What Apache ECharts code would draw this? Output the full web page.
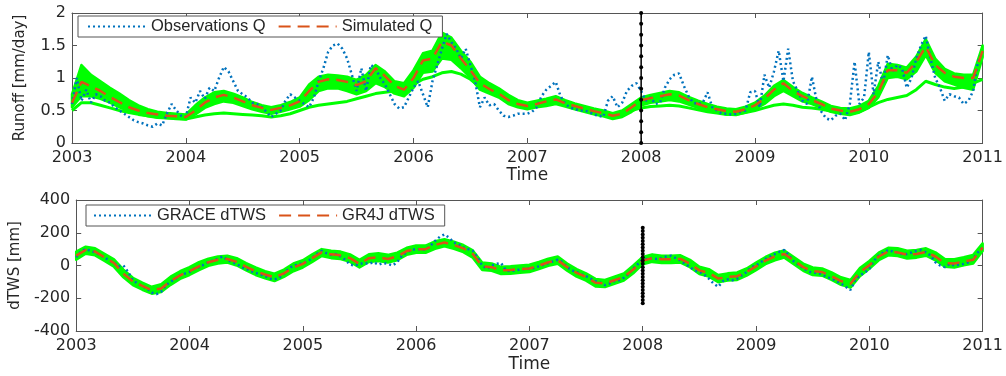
<!DOCTYPE html>
<html><head><meta charset="utf-8">
<script src="https://cdn.jsdelivr.net/npm/echarts@6/dist/echarts.min.js"></script>
<style>html,body{margin:0;padding:0;background:#fff}#c{width:1006px;height:376px}</style>
</head><body><div id="c"></div>
<script>
// x tick labels
const yearTicks = ['2003','2004','2005','2006','2007','2008','2009','2010','2011'];

// ---- Top panel: runoff [mm/day], monthly from 2003.0 to 2011.0 ----
const simQ = [
0.62,0.94,0.87,0.80,0.71,0.63,0.55,0.50,0.46,0.44,0.42,0.41,
0.40,0.50,0.62,0.70,0.74,0.70,0.64,0.58,0.54,0.51,0.54,0.58,
0.64,0.80,0.94,0.98,0.97,0.94,0.89,0.95,1.15,1.03,0.88,0.82,
1.00,1.27,1.30,1.56,1.50,1.30,1.12,0.92,0.83,0.76,0.66,0.60,
0.57,0.60,0.64,0.67,0.61,0.57,0.53,0.49,0.46,0.42,0.45,0.55,
0.66,0.69,0.72,0.75,0.73,0.66,0.60,0.55,0.52,0.49,0.48,0.52,
0.58,0.68,0.82,0.92,0.80,0.72,0.66,0.60,0.53,0.50,0.48,0.52,
0.60,0.78,1.12,1.12,1.08,1.25,1.48,1.20,1.08,1.02,1.00,1.00,
1.42];
const ensUpperQ = [
0.75,1.20,1.05,0.95,0.85,0.76,0.66,0.58,0.52,0.48,0.46,0.45,
0.44,0.58,0.70,0.78,0.80,0.76,0.70,0.63,0.58,0.55,0.58,0.63,
0.70,0.90,1.02,1.05,1.04,1.02,0.97,1.05,1.20,1.10,0.95,0.92,
1.12,1.38,1.42,1.70,1.62,1.42,1.25,1.02,0.92,0.84,0.74,0.66,
0.62,0.65,0.68,0.72,0.66,0.61,0.57,0.53,0.50,0.46,0.50,0.60,
0.70,0.74,0.77,0.80,0.78,0.71,0.65,0.60,0.56,0.53,0.52,0.56,
0.62,0.73,0.88,0.97,0.86,0.77,0.70,0.64,0.57,0.54,0.53,0.57,
0.65,0.88,1.22,1.20,1.16,1.33,1.60,1.30,1.14,1.07,1.05,1.05,
1.50];
const ensLowerQ = [
0.55,0.72,0.72,0.68,0.62,0.55,0.49,0.45,0.41,0.39,0.38,0.37,
0.36,0.44,0.54,0.60,0.64,0.62,0.57,0.52,0.48,0.45,0.48,0.52,
0.56,0.66,0.80,0.84,0.84,0.80,0.75,0.80,0.92,0.86,0.76,0.72,
0.85,1.08,1.10,1.30,1.28,1.15,1.00,0.82,0.76,0.70,0.60,0.55,
0.52,0.55,0.57,0.60,0.56,0.52,0.48,0.44,0.41,0.37,0.40,0.48,
0.58,0.62,0.64,0.66,0.64,0.59,0.54,0.50,0.47,0.44,0.43,0.47,
0.52,0.60,0.72,0.80,0.72,0.64,0.60,0.54,0.48,0.45,0.43,0.47,
0.54,0.70,1.00,1.02,0.98,1.10,1.35,1.08,0.95,0.90,0.85,0.82,
1.32];
const ensDryQ = [
0.50,0.62,0.62,0.58,0.54,0.50,0.47,0.44,0.42,0.40,0.39,0.38,
0.37,0.40,0.43,0.45,0.46,0.45,0.44,0.43,0.42,0.40,0.42,0.45,
0.50,0.55,0.58,0.60,0.62,0.64,0.68,0.72,0.76,0.78,0.80,0.85,
0.90,0.98,1.02,1.08,1.10,1.06,0.98,0.86,0.78,0.72,0.66,0.62,
0.60,0.60,0.61,0.62,0.58,0.54,0.50,0.47,0.44,0.42,0.44,0.50,
0.54,0.56,0.57,0.58,0.57,0.54,0.51,0.48,0.46,0.44,0.44,0.47,
0.50,0.54,0.58,0.60,0.58,0.55,0.54,0.52,0.49,0.46,0.45,0.48,
0.55,0.62,0.67,0.70,0.73,0.82,0.95,0.90,0.86,0.84,0.86,0.92,
0.98];
// observed runoff, twice a month
const obsQ = [
0.60,1.00,0.65,0.82,0.62,0.75,0.72,0.65,0.62,0.55,0.50,0.45,0.40,0.35,0.32,0.30,0.27,0.25,0.30,0.27,0.45,0.60,0.50,0.42,
0.40,0.70,0.62,0.80,0.68,0.85,0.80,1.00,1.17,1.10,0.95,0.80,0.75,0.70,0.62,0.60,0.55,0.48,0.40,0.45,0.50,0.65,0.75,0.70,
0.65,0.60,0.55,0.70,0.95,1.15,1.40,1.50,1.53,1.45,1.30,1.05,0.80,1.15,0.80,1.20,1.15,1.00,0.90,0.75,0.60,0.53,0.55,0.70,
0.85,0.95,0.75,0.55,0.95,1.20,1.45,1.68,1.55,1.45,1.30,1.45,1.20,0.95,0.55,0.70,0.58,0.60,0.50,0.42,0.40,0.42,0.45,0.45,
0.45,0.48,0.55,0.72,0.82,0.88,0.94,0.72,0.60,0.55,0.52,0.50,0.50,0.48,0.44,0.42,0.40,0.65,0.72,0.55,0.62,0.80,0.88,0.92,
0.80,0.65,0.70,0.60,0.62,0.85,0.98,1.05,1.07,0.88,0.72,0.62,0.60,0.62,0.78,0.55,0.50,0.45,0.45,0.44,0.45,0.48,0.50,0.78,
0.80,0.55,1.05,0.85,1.10,1.42,0.95,1.45,0.95,0.80,0.65,0.60,1.02,0.65,0.48,0.38,0.35,0.42,0.45,0.35,0.60,1.25,0.60,0.70,
1.40,0.75,1.25,0.90,1.35,1.10,1.20,1.15,0.85,1.00,1.30,1.50,1.65,1.30,1.00,0.85,0.65,0.75,0.72,0.70,0.60,0.65,0.80,1.25,
1.40];

// ---- Bottom panel: dTWS [mm] ----
const simTWS = [
60,95,85,50,15,-50,-98,-125,-150,-140,-95,-60,
-35,-5,20,35,40,22,-8,-35,-55,-72,-48,-12,
10,45,80,68,62,45,10,45,50,40,55,88,
100,100,125,140,125,105,70,-5,-10,-30,-28,-22,
-18,0,20,32,-10,-45,-70,-105,-110,-90,-70,-25,
30,45,38,38,40,12,-30,-45,-80,-70,-65,-40,
-5,30,55,70,30,-10,-35,-40,-65,-95,-112,-40,
2,55,85,80,65,70,82,55,15,12,25,35,
110];
const ensUpperTWS = [
85,115,105,72,38,-25,-75,-105,-130,-115,-68,-35,
-10,20,42,55,60,45,15,-12,-35,-50,-25,12,
32,68,100,90,85,68,35,68,75,65,78,108,
122,122,148,160,145,125,92,18,12,-8,-5,0,
5,22,42,55,12,-22,-48,-82,-88,-68,-48,0,
52,68,60,60,62,35,-8,-22,-58,-48,-42,-18,
18,52,78,92,52,12,-12,-18,-42,-72,-88,-15,
28,78,108,105,90,95,105,80,40,38,50,65,
135];
const ensLowerTWS = [
35,72,62,28,-8,-72,-120,-148,-172,-162,-118,-82,
-58,-28,-2,12,18,0,-30,-58,-78,-95,-70,-35,
-12,22,58,45,40,22,-12,22,28,18,32,65,
78,78,102,118,102,82,48,-28,-32,-52,-50,-45,
-40,-22,-2,10,-32,-68,-92,-128,-132,-112,-92,-48,
8,22,15,15,18,-10,-52,-68,-102,-92,-88,-62,
-28,8,32,48,8,-32,-58,-62,-88,-118,-135,-65,
-20,32,62,58,42,48,60,32,-8,-12,2,12,
88];
// GRACE, twice a month
const graceTWS = [
50,85,100,90,80,65,50,30,15,-5,0,-40,-90,-110,-125,-140,-165,-175,-160,-120,-100,-80,-60,-50,
-40,-20,-10,5,20,30,40,55,35,20,10,-10,-20,-35,-45,-55,-65,-80,-85,-75,-50,-20,0,5,
15,25,45,70,90,75,65,70,55,35,5,0,10,15,10,20,5,15,10,0,20,60,80,95,
100,100,95,120,150,175,190,170,140,130,110,100,90,50,0,-20,0,10,15,-30,-35,-30,-25,-20,
-20,-15,-5,5,15,25,35,20,-10,-30,-40,-55,-65,-80,-95,-105,-120,-110,-95,-90,-75,-50,-20,10,
35,40,45,40,45,55,60,45,30,10,-10,-30,-40,-55,-80,-110,-130,-95,-85,-90,-80,-60,-40,-10,
0,20,40,55,70,85,95,60,25,5,-15,-35,-45,-45,-55,-70,-80,-95,-110,-130,-150,-90,-60,-45,
-20,30,60,80,95,85,80,70,70,80,90,95,80,60,20,0,-10,10,0,5,10,20,40,80,
110];

// calibration / validation split marker
const splitYear = 2008;
const splitMarksQ = [0,0.167,0.333,0.5,0.667,0.833,1,1.167,1.333,1.5,1.667,1.833,2];
const splitMarksTWS = [-230,-210,-190,-170,-150,-130,-110,-90,-70,-50,-30,-10,10,30,50,70,90,110,130,150,170,190,210,230];

// ---------- build ----------
const FONT = 'DejaVu Sans';
const LFONT = 'Liberation Sans';
const TXT = '#262626';
const AX = '#555555';
const BLUE = '#0072BD', RED = '#D95319', GREEN = '#00FF00';

const mT = i => 2003 + i / 12;
const monthly = arr => arr.map((v, i) => [mT(i), v]);
const semi = arr => arr.map((v, i) => [2003 + i / 24, v]);

function xAxes(gi, gap) {
  return [{
    type: 'value', gridIndex: gi, min: 2003, max: 2011, interval: 1, position: 'bottom',
    name: 'Time', nameLocation: 'middle', nameGap: gap,
    nameTextStyle: {fontFamily: FONT, fontSize: 17, color: TXT},
    axisLine: {show: true, onZero: false, lineStyle: {color: AX, width: 1}},
    axisTick: {show: true, inside: true, length: 5, lineStyle: {color: AX}},
    axisLabel: {show: true, margin: 7, fontFamily: FONT, fontSize: 16, color: TXT,
      formatter: v => yearTicks[Math.round(v - 2003)] || ''},
    splitLine: {show: false}
  }, {
    type: 'value', gridIndex: gi, min: 2003, max: 2011, interval: 1, position: 'top',
    axisLine: {show: true, onZero: false, lineStyle: {color: AX, width: 1}},
    axisTick: {show: true, inside: true, length: 5, lineStyle: {color: AX}},
    axisLabel: {show: false}, splitLine: {show: false}
  }];
}
function yAxes(gi, min, max, interval, name, gap) {
  return [{
    type: 'value', gridIndex: gi, min, max, interval, position: 'left',
    name, nameLocation: 'middle', nameGap: gap,
    nameTextStyle: {fontFamily: FONT, fontSize: 15, color: TXT},
    axisLine: {show: true, onZero: false, lineStyle: {color: AX, width: 1}},
    axisTick: {show: true, inside: true, length: 5, lineStyle: {color: AX}},
    axisLabel: {show: true, margin: 6, fontFamily: FONT, fontSize: 16, color: TXT},
    splitLine: {show: false}
  }, {
    type: 'value', gridIndex: gi, min, max, interval, position: 'right',
    axisLine: {show: true, onZero: false, lineStyle: {color: AX, width: 1}},
    axisTick: {show: true, inside: true, length: 5, lineStyle: {color: AX}},
    axisLabel: {show: false}, splitLine: {show: false}
  }];
}

const xa = [...xAxes(0, 24), ...xAxes(1, 25)];   // 0,1 top panel ; 2,3 bottom panel
const ya = [...yAxes(0, 0, 2, 0.5, 'Runoff [mm/day]', 44), ...yAxes(1, -400, 400, 200, 'dTWS [mm]', 47)];

// ensemble envelope drawn as a polygon through the axis scales
function band(xi, yi, lower, upper) {
  return {
    type: 'custom', xAxisIndex: xi, yAxisIndex: yi, data: [[2003, lower[0]]], silent: true, z: 1,
    renderItem: (params, api) => {
      const pts = [];
      for (let i = 0; i < upper.length; i++) pts.push(api.coord([mT(i), upper[i]]));
      for (let i = lower.length - 1; i >= 0; i--) pts.push(api.coord([mT(i), lower[i]]));
      return {type: 'polygon', shape: {points: pts},
              style: {fill: GREEN, stroke: GREEN, lineWidth: 2.5, lineJoin: 'round'}};
    }
  };
}

const series = [
  band(0, 0, ensLowerQ, ensUpperQ),
  {type: 'line', xAxisIndex: 0, yAxisIndex: 0, data: monthly(ensDryQ), symbol: 'none',
   lineStyle: {width: 3, color: GREEN}, z: 1},
  {name: 'Observations Q', type: 'line', xAxisIndex: 0, yAxisIndex: 0, data: semi(obsQ), symbol: 'none',
   color: BLUE, lineStyle: {width: 2.5, color: BLUE, type: [2, 3]}, z: 2},
  {name: 'Simulated Q', type: 'line', xAxisIndex: 0, yAxisIndex: 0, data: monthly(simQ), symbol: 'none',
   color: RED, lineStyle: {width: 2.5, color: RED, type: [12, 7]}, z: 3},
  {type: 'line', xAxisIndex: 0, yAxisIndex: 0, data: splitMarksQ.map(v => [splitYear, v]),
   symbol: 'circle', symbolSize: 4, showSymbol: true, itemStyle: {color: '#000'},
   lineStyle: {width: 1.5, color: '#000'}, z: 4},

  band(2, 2, ensLowerTWS, ensUpperTWS),
  {name: 'GRACE dTWS', type: 'line', xAxisIndex: 2, yAxisIndex: 2, data: semi(graceTWS), symbol: 'none',
   color: BLUE, lineStyle: {width: 2.5, color: BLUE, type: [2, 3]}, z: 2},
  {name: 'GR4J dTWS', type: 'line', xAxisIndex: 2, yAxisIndex: 2, data: monthly(simTWS), symbol: 'none',
   color: RED, lineStyle: {width: 2.5, color: RED, type: [12, 7]}, z: 3},
  {type: 'line', xAxisIndex: 2, yAxisIndex: 2, data: splitMarksTWS.map(v => [splitYear, v]),
   symbol: 'circle', symbolSize: 4, showSymbol: true, itemStyle: {color: '#000'},
   lineStyle: {width: 1.5, color: '#000'}, z: 4}
];

const legendBase = {
  orient: 'horizontal', backgroundColor: '#fff', borderColor: AX, borderWidth: 1, borderRadius: 0,
  itemWidth: 58, itemHeight: 12, itemGap: 12,
  itemStyle: {opacity: 0},
  textStyle: {fontFamily: LFONT, fontSize: 16.5, color: TXT},
  selectedMode: false
};

const chart = echarts.init(document.getElementById('c'), null, {renderer: 'canvas'});
chart.setOption({
  animation: false,
  backgroundColor: '#fff',
  grid: [{left: 72, right: 21, top: 13, height: 130}, {left: 72, right: 21, top: 200, height: 131}],
  xAxis: xa,
  yAxis: ya,
  legend: [
    Object.assign({}, legendBase, {data: ['Observations Q', 'Simulated Q'], left: 78, top: 16,
      padding: [2, 10, 2, 9]}),
    Object.assign({}, legendBase, {data: ['GRACE dTWS', 'GR4J dTWS'], left: 86, top: 205,
      padding: [2, 10, 2, 7]})
  ],
  series
});
</script></body></html>
